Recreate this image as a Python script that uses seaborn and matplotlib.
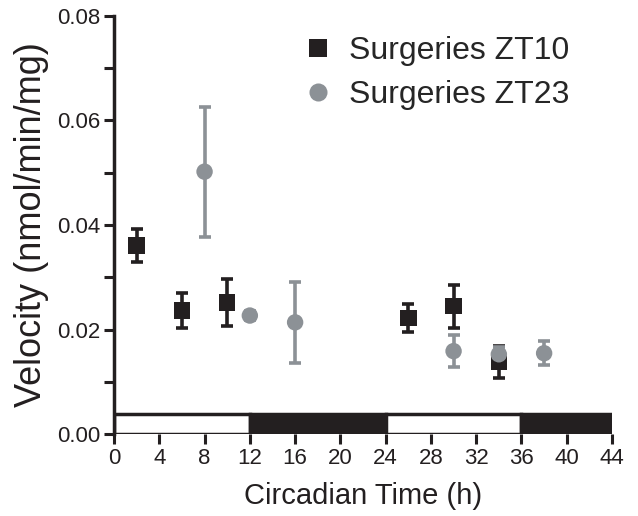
import numpy as np
import pandas as pd
import matplotlib
matplotlib.use("Agg")
import matplotlib.pyplot as plt
import seaborn as sns

# ── data ────────────────────────────────────────────────────────────────────
zt10_time = [2, 6, 10, 26, 30, 34]
zt10_vel  = [0.0361, 0.0237, 0.0252, 0.0222, 0.0245, 0.0138]
zt10_sem  = [0.0032, 0.0034, 0.0045, 0.0027, 0.0041, 0.0030]

zt23_time = [8, 12, 16, 30, 34, 38]
zt23_vel  = [0.0502, 0.0227, 0.0214, 0.0159, 0.0153, 0.0155]
zt23_sem  = [0.0124, 0.0008, 0.0078, 0.0031, 0.0014, 0.0023]

phase_start = [0, 12, 24, 36]
phase_end   = [12, 24, 36, 44]
phase_kind  = ["light", "dark", "light", "dark"]
phase_height = 0.0038

x_ticks = list(range(0, 45, 4))
y_ticks = [0.00, 0.02, 0.04, 0.06, 0.08]

BLACK = "#231f20"
GREY = "#8c9196"

df = pd.DataFrame({
    "time": zt10_time + zt23_time,
    "velocity": zt10_vel + zt23_vel,
    "sem": zt10_sem + zt23_sem,
    "group": ["Surgeries ZT10"] * len(zt10_time) + ["Surgeries ZT23"] * len(zt23_time),
})

sns.set_style("ticks")
plt.rcParams["font.family"] = ["Liberation Sans", "DejaVu Sans"]

fig = plt.figure(figsize=(6.38, 5.16), dpi=100)
ax = fig.add_axes([0.1787, 0.1583, 0.7806, 0.8112])

# light/dark bar along the bottom
ax.bar(phase_start, phase_height,
       width=np.array(phase_end) - np.array(phase_start), align="edge",
       color=["white" if k == "light" else BLACK for k in phase_kind],
       edgecolor=BLACK, linewidth=2.5, zorder=1)

# error bars
colors = {"Surgeries ZT10": BLACK, "Surgeries ZT23": GREY}
for grp, sub in df.groupby("group"):
    ax.errorbar(sub["time"], sub["velocity"], yerr=sub["sem"], fmt="none",
                ecolor=colors[grp], elinewidth=2.6, capsize=4.5, capthick=2.6,
                zorder=2)

sns.scatterplot(data=df, x="time", y="velocity", hue="group", style="group",
                palette=colors,
                markers={"Surgeries ZT10": "s", "Surgeries ZT23": "o"},
                s=140, linewidth=0, ax=ax, zorder=3)

handles, labels = ax.get_legend_handles_labels()
for h in handles:
    h.set_markersize(13)
ax.legend(handles, labels, loc="upper left", bbox_to_anchor=(0.333, 1.005),
          frameon=False, fontsize=23, handletextpad=0.45, labelspacing=0.45,
          handlelength=1.0, borderpad=0.2)

ax.set_xlim(0, 44)
ax.set_ylim(0, 0.08)
ax.set_xticks(x_ticks)
ax.set_yticks(y_ticks)
ax.set_yticks([0.01, 0.03, 0.05, 0.07], minor=True)
ax.set_yticklabels([f"{v:.2f}" for v in y_ticks])
ax.tick_params(axis="both", which="both", direction="out", length=7,
               width=2.2, labelsize=16, color=BLACK, labelcolor=BLACK, pad=3)

for side in ["top", "right", "bottom"]:
    ax.spines[side].set_visible(False)
ax.spines["left"].set_linewidth(2.5)
ax.spines["left"].set_color(BLACK)

ax.set_xlabel("Circadian Time (h)", fontsize=21, color=BLACK, labelpad=9)
ax.set_ylabel("Velocity (nmol/min/mg)", fontsize=26, color=BLACK, labelpad=6)

fig.savefig("out.png", dpi=100)
